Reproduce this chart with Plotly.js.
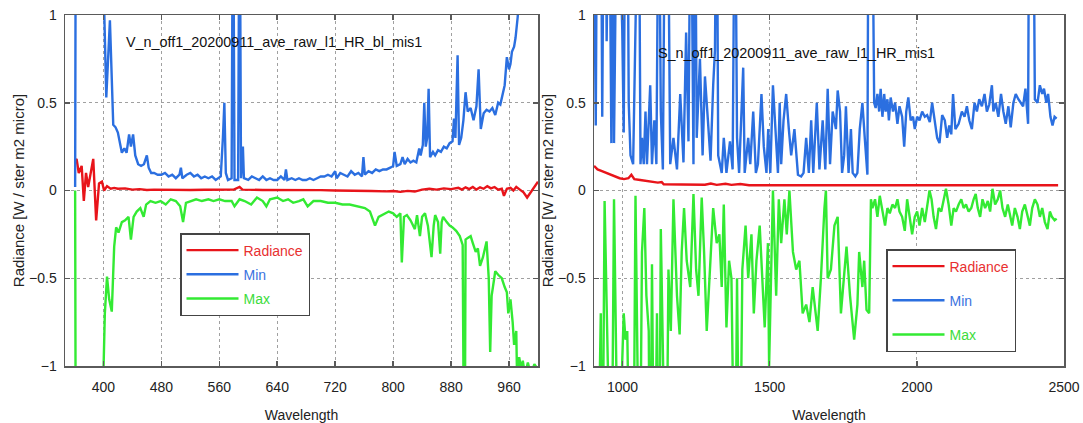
<!DOCTYPE html>
<html>
<head>
<meta charset="utf-8">
<script src="https://cdn.plot.ly/plotly-3.0.1.min.js"></script>
<style>html,body{margin:0;padding:0;background:#fff;}#chart{width:1083px;height:423px;}</style>
</head>
<body>
<div id="chart"></div>
<script>
// ---------- Left panel (VNIR) ----------
const titleV = 'V_n_off1_20200911_ave_raw_l1_HR_bl_mis1';
const wlV_rad = [361,363,366,370,373,376,379,382,386,390,394,398,401,405,410,415,420,430,440,450,460,470,480,500,520,540,560,580,588,592,620,650,680,700,720,750,770,790,800,810,820,830,840,850,860,870,880,890,895,900,905,910,915,920,925,930,935,940,945,950,953,957,962,966,970,975,980,985,990,995,1000];
const radV = [0.17,0.18,0.1,0.14,-0.06,0.1,0.02,0.08,0.18,-0.17,0.04,0.05,0.0,0.025,0.01,0.015,0.01,0.012,0.005,0.008,0.003,0.005,0.004,0.004,0.003,0.004,0.003,0.005,0.02,0.005,0.003,0.004,0.003,0.002,0.0,0.0,-0.003,-0.005,-0.003,-0.008,-0.002,-0.006,0.005,0.01,0.005,0.012,0.008,0.015,0.005,0.018,0.008,0.02,0.005,0.018,0.01,0.025,0.012,0.02,0.005,0.01,-0.03,0.01,0.015,0.0,0.02,0.005,-0.01,-0.04,-0.01,0.02,0.05];

const wlV_min = [361,362,399,401,404,409,413.6,416.8,420,423,425.5,429,432,435.5,438,441,444,448,452,456,460,462.5,466,470,475,480,485,490,495,500,505,507,509,515,520,525,530,535,540,545,550,555,558,562,565,567,569,572,577,579,581,586,588,590,592.6,594,600,605,610,615,620,625,630,635,640,645,650,652,654,660,665,670,675,680,685,690,695,700,705,710,715,720,722,727,732,737,742,747,752,757,759,761,766,771,776,781,786,791,796,800,802,805,810,813,816,820,824,828,832,836,838,841,843,845,847,849,851,855,858,862,866,870,874,878,882,884,886,889,891,894,897,900,903,907,911,915,918,921,925,929,933,937,941,945,948,951,954,957,960,962,964,967,969,972,975,980,1000];
const minV = [0.02,2,2,1.05,0.53,0.97,0.375,0.36,0.33,0.27,0.215,0.24,0.215,0.32,0.25,0.32,0.2,0.15,0.14,0.15,0.2,0.13,0.1,0.1,0.09,0.09,0.1,0.08,0.09,0.07,0.09,0.13,0.07,0.09,0.1,0.08,0.09,0.07,0.08,0.07,0.08,0.06,0.07,0.08,0.3,0.5,0.1,0.06,0.07,2,0.06,0.06,2,0.07,0.25,0.07,0.06,0.08,0.07,0.06,0.08,0.06,0.07,0.06,0.06,0.08,0.06,0.12,0.06,0.07,0.06,0.07,0.06,0.06,0.07,0.06,0.07,0.08,0.08,0.09,0.08,0.11,0.07,0.1,0.09,0.08,0.11,0.09,0.1,0.08,0.19,0.09,0.11,0.1,0.12,0.11,0.12,0.12,0.13,0.14,0.22,0.14,0.15,0.19,0.15,0.18,0.16,0.17,0.16,0.24,0.2,0.26,0.5,0.25,0.3,0.58,0.19,0.22,0.2,0.23,0.22,0.25,0.24,0.27,0.28,0.41,0.3,0.77,0.26,0.3,0.4,0.56,0.45,0.47,0.4,0.48,0.69,0.35,0.44,0.46,0.45,0.47,0.43,0.5,0.49,0.54,0.6,0.76,0.69,0.72,0.79,0.82,0.87,0.99,1.2,2,2];

const wlV_max = [361,362,399,400,402,405,408,411.6,414.9,417.6,420.9,425.5,430,434.7,438,441.7,446,451,455.6,459,465,472,479,486,493,500,506,510,514,520,528,536,545,552,560,568,577,581,588,595,604,612,620,625,630,640,648,655,662,670,676,682,690,700,710,720,730,740,750,761,768,775,780,785,794,800,805,810,812,815,819,824,830,833,837,840,844,848,853,856,858,862,865,867,869,874,878,882,887,892,896,898.5,900,903,907,910,914,917,920,924,929,932,934,936,941,945,950,954,957,959,962,965,967,970,971,974,977,979,982,986,990,995,1000];
const maxV = [0.0,-2,-2,-1.05,-0.7,-0.49,-0.62,-0.69,-0.32,-0.21,-0.24,-0.18,-0.17,-0.15,-0.28,-0.15,-0.12,-0.1,-0.15,-0.08,-0.06,-0.07,-0.06,-0.08,-0.05,-0.06,-0.09,-0.18,-0.07,-0.06,-0.05,-0.06,-0.05,-0.06,-0.05,-0.06,-0.06,-0.09,-0.05,-0.06,-0.08,-0.04,-0.06,-0.09,-0.05,-0.04,-0.06,-0.05,-0.07,-0.06,-0.05,-0.09,-0.06,-0.06,-0.07,-0.07,-0.08,-0.08,-0.09,-0.1,-0.12,-0.2,-0.15,-0.14,-0.12,-0.13,-0.15,-0.13,-0.41,-0.15,-0.14,-0.17,-0.22,-0.14,-0.26,-0.15,-0.13,-0.2,-0.38,-0.2,-0.14,-0.18,-0.36,-0.18,-0.15,-0.18,-0.2,-0.21,-0.23,-0.26,-0.31,-2,-0.28,-0.27,-0.26,-0.3,-0.35,-0.33,-0.43,-0.38,-0.29,-0.5,-0.92,-0.6,-0.46,-0.48,-0.5,-0.55,-0.58,-0.7,-0.62,-0.75,-0.88,-0.8,-1.05,-0.95,-1.02,-0.97,-1.05,-0.98,-1.05,-0.99,-1.02];

// ---------- Right panel (SWIR) ----------
const titleS = 'S_n_off1_20200911_ave_raw_l1_HR_mis1';
const wlS_rad = [903,915,930,945,960,975,990,1005,1020,1030,1040,1060,1080,1100,1120,1133,1140,1200,1280,1300,1320,1350,1370,1400,1430,1500,1700,2000,2300,2480];
const radS = [0.14,0.12,0.11,0.1,0.09,0.08,0.07,0.065,0.07,0.09,0.065,0.06,0.055,0.05,0.045,0.048,0.035,0.034,0.033,0.04,0.032,0.038,0.032,0.037,0.03,0.03,0.03,0.03,0.03,0.03];

const wlS_min = [903,909,914,926,931,937,942,946,954,962,967,971,976,982,999,1004,1010,1016,1021,1027,1036,1040,1055,1061,1066,1072,1078,1083,1094,1100,1108,1115,1123,1130,1137,1145,1153,1162,1173,1185,1196,1207,1216,1224,1232,1241,1246,1252,1263,1272,1280,1292,1299,1308,1314,1320,1325,1337,1344,1353,1365,1374,1382,1389,1396,1410,1415,1427,1434,1444,1453,1460,1472,1480,1489,1495,1502,1511,1520,1528,1534,1539,1547,1556,1565,1573,1584,1596,1607,1615,1624,1633,1641,1648,1660,1669,1680,1689,1697,1705,1714,1725,1731,1739,1746,1753,1759,1768,1776,1782,1791,1798,1806,1815,1823,1832,1836,1847,1855,1860,1866,1872,1877,1883,1889,1894,1900,1905,1911,1919,1926,1934,1941,1950,1957,1964,1971,1979,1987,1993,2001,2009,2018,2027,2035,2044,2052,2061,2069,2077,2086,2095,2103,2110,2117,2123,2131,2142,2153,2162,2170,2178,2187,2196,2204,2212,2221,2230,2238,2246,2255,2260,2268,2277,2286,2294,2302,2311,2319,2328,2336,2345,2352,2361,2369,2378,2382,2395,2401,2410,2418,2426,2432,2440,2446,2454,2461,2468,2475];
const minS = [1.5,0.37,2,2,0.42,2,2,0.85,2,0.27,2,0.27,2,2,0.92,0.33,2,2,0.5,0.2,0.15,2,2,0.15,0.3,0.15,0.45,0.15,0.6,0.15,0.4,0.15,2,0.45,0.12,2,2,0.15,0.3,0.12,0.55,0.16,0.9,0.28,2,0.15,2,0.3,0.75,0.2,0.65,0.35,0.17,0.6,0.8,2,0.2,0.1,0.3,0.1,0.28,0.12,2,0.3,0.1,0.7,0.1,0.3,0.15,0.45,0.1,0.15,0.55,0.25,0.1,0.35,0.1,0.6,0.3,0.1,0.5,0.15,0.4,0.55,0.35,0.2,0.35,0.09,0.08,0.1,0.3,0.1,0.4,0.1,0.5,0.12,0.4,0.12,0.58,0.15,0.45,0.35,0.57,0.45,0.1,0.2,0.48,0.1,0.35,0.1,0.08,0.1,0.35,0.5,0.3,0.09,2,2,0.5,0.47,0.55,0.45,0.58,0.42,0.55,0.45,0.52,0.4,0.53,0.45,0.5,0.38,0.48,0.42,0.25,0.45,0.53,0.4,0.42,0.35,0.42,0.4,0.45,0.42,0.43,0.39,0.5,0.38,0.3,0.27,0.43,0.4,0.3,0.37,0.32,0.55,0.35,0.38,0.45,0.42,0.48,0.4,0.35,0.5,0.45,0.52,0.48,0.55,0.45,0.49,0.6,0.45,0.5,0.42,0.55,0.45,0.38,0.48,0.36,0.5,0.55,0.52,0.5,0.48,0.58,0.38,2,2,0.52,0.5,0.6,0.55,0.58,0.5,0.55,0.42,0.37,0.42,0.41];

const wlS_max = [903,914,926,931,939,946,954,962,971,977,987,999,1004,1010,1016,1027,1036,1044,1052,1058,1066,1074,1081,1089,1094,1100,1108,1117,1124,1130,1140,1148,1156,1164,1173,1185,1194,1201,1209,1218,1230,1241,1250,1258,1269,1277,1286,1295,1308,1320,1329,1337,1344,1353,1362,1370,1382,1389,1398,1407,1418,1427,1438,1446,1455,1466,1475,1483,1494,1498,1511,1522,1531,1539,1550,1558,1567,1579,1590,1601,1612,1624,1635,1646,1663,1674,1686,1691,1697,1708,1720,1731,1742,1753,1761,1773,1787,1798,1804,1815,1821,1829,1838,1844,1849,1858,1866,1874,1883,1892,1900,1908,1917,1926,1934,1941,1950,1959,1967,1975,1984,1993,2001,2009,2018,2027,2035,2043,2050,2057,2065,2074,2083,2091,2099,2108,2117,2125,2133,2142,2151,2159,2167,2176,2185,2193,2200,2207,2215,2223,2232,2241,2249,2257,2266,2275,2283,2291,2300,2309,2316,2324,2333,2342,2350,2358,2367,2376,2384,2392,2401,2410,2418,2426,2435,2444,2452,2459,2468,2475];
const maxS = [-2,-2,-0.7,-2,-0.06,-0.6,-2,-2,-0.05,-2,-2,-0.97,-0.7,-0.85,-0.8,-2,-2,-0.03,-0.8,-2,-0.35,-0.1,-0.6,-0.8,-2,-0.42,-2,-0.7,-2,-0.22,-2,-2,-0.45,-0.8,-0.05,-0.6,-0.82,-0.35,-0.1,-0.4,-0.55,-0.02,-0.45,-0.6,-0.04,-0.35,-0.8,-0.5,-0.1,-0.3,-0.25,-0.55,-0.08,-0.78,-0.4,-0.5,-2,-0.5,-2,-0.45,-0.2,-0.5,-0.25,-0.7,-0.4,-0.2,-0.5,-0.78,-0.3,-1.0,0.0,-0.6,-0.05,-0.3,-0.05,-0.25,0.0,-0.35,-0.45,-0.4,-0.7,-0.65,-0.75,-0.55,-0.8,-0.5,-0.1,0.0,-0.5,-0.45,-0.2,-0.15,-0.7,-0.5,-0.32,-0.6,-0.85,-0.65,-0.35,-0.55,-0.4,-0.68,-0.7,-0.05,-0.1,-0.05,-0.15,-0.03,-0.12,-0.2,-0.1,-0.13,-0.08,-0.1,-0.05,-0.12,-0.15,-0.23,-0.05,-0.15,-0.25,-0.15,-0.12,-0.2,-0.1,-0.18,-0.08,0.0,-0.05,-0.15,-0.22,-0.1,-0.12,-0.05,0.01,-0.08,-0.2,-0.1,-0.12,-0.08,-0.05,-0.1,-0.08,-0.12,-0.1,-0.05,-0.02,-0.1,-0.15,-0.05,-0.1,-0.06,-0.12,0.01,-0.08,-0.05,0.0,-0.1,-0.15,-0.08,-0.14,-0.2,-0.1,-0.15,-0.22,-0.12,-0.08,-0.15,-0.2,-0.1,-0.05,-0.08,-0.15,-0.1,-0.18,-0.22,-0.12,-0.15,-0.17,-0.16];

const seriesNames = ['Radiance', 'Min', 'Max'];
const lineColors = ['#e8141a', '#2b6fe0', '#33ea33'];
const textColors = ['#e83030', '#3a72e0', '#3cdc3c'];
const yTitle = 'Radiance [W / ster m2 micro]';
const xTitle = 'Wavelength';

const FONT = 'Liberation Sans, Arial, sans-serif';

function mk(x, y, i, xa, ya, leg) {
  return {
    x: x, y: y, type: 'scatter', mode: 'lines',
    xaxis: xa, yaxis: ya, legend: leg, legendgroup: leg + i,
    name: '<span style="color:' + textColors[i] + '">' + seriesNames[i] + '</span>',
    line: {color: lineColors[i], width: 2.4}
  };
}

const traces = [
  mk(wlV_rad, radV, 0, 'x', 'y', 'legend'),
  mk(wlV_min, minV, 1, 'x', 'y', 'legend'),
  mk(wlV_max, maxV, 2, 'x', 'y', 'legend'),
  mk(wlS_rad, radS, 0, 'x2', 'y2', 'legend2'),
  mk(wlS_min, minS, 1, 'x2', 'y2', 'legend2'),
  mk(wlS_max, maxS, 2, 'x2', 'y2', 'legend2')
];

const axisCommon = {
  showgrid: true, gridcolor: '#a0a0a0', griddash: 'dot', gridwidth: 1,
  showline: true, mirror: 'ticks', linecolor: '#5a5a5a', linewidth: 1.5,
  ticks: 'inside', ticklen: 5, tickcolor: '#5a5a5a', tickwidth: 1.5,
  zeroline: false, tickfont: {family: FONT, size: 14, color: '#222'}
};

const W = 1083, H = 423;
const ml = 65, mr = 19, mt = 15, mb = 57;
const pw = W - ml - mr, ph = H - mt - mb;
function dx(a, b) { return [(a - ml) / pw, (b - ml) / pw]; }
function px(v) { return (v - ml) / pw; }
function py(v) { return (H - mb - v) / ph; }

const layout = {
  width: W, height: H,
  margin: {l: ml, r: mr, t: mt, b: mb},
  paper_bgcolor: '#fff', plot_bgcolor: '#fff',
  font: {family: FONT, size: 14, color: '#222'},
  showlegend: true,
  xaxis: Object.assign({}, axisCommon, {domain: dx(65, 538), range: [347, 1000], tick0: 400, dtick: 80, anchor: 'y',
    ticklabelstandoff: 8,
    title: {text: xTitle, font: {family: FONT, size: 14, color: '#222'}, standoff: 16}}),
  yaxis: Object.assign({}, axisCommon, {domain: [0, 1], range: [-1, 1], dtick: 0.5, anchor: 'x',
    ticklabelstandoff: 4,
    title: {text: yTitle, font: {family: FONT, size: 15, color: '#222'}, standoff: 1}}),
  xaxis2: Object.assign({}, axisCommon, {domain: dx(594, 1064), range: [903, 2500], tick0: 1000, dtick: 500, anchor: 'y2',
    ticklabelstandoff: 8,
    title: {text: xTitle, font: {family: FONT, size: 14, color: '#222'}, standoff: 16}}),
  yaxis2: Object.assign({}, axisCommon, {domain: [0, 1], range: [-1, 1], dtick: 0.5, anchor: 'x2',
    ticklabelstandoff: 4,
    title: {text: yTitle, font: {family: FONT, size: 15, color: '#222'}, standoff: 1}}),
  legend: {x: px(180), y: py(233), xanchor: 'left', yanchor: 'top',
    bgcolor: '#fff', bordercolor: '#444', borderwidth: 1.5, font: {family: FONT, size: 14},
    tracegroupgap: 3, itemwidth: 52, traceorder: 'grouped'},
  legend2: {x: px(886), y: py(249), xanchor: 'left', yanchor: 'top',
    bgcolor: '#fff', bordercolor: '#444', borderwidth: 1.5, font: {family: FONT, size: 14},
    tracegroupgap: 13, itemwidth: 52, traceorder: 'grouped'},
  annotations: [
    {text: titleV, xref: 'paper', yref: 'paper', x: px(124), y: py(42), xanchor: 'left', yanchor: 'middle',
      showarrow: false, font: {family: FONT, size: 14.4, color: '#111'}},
    {text: titleS, xref: 'paper', yref: 'paper', x: px(656), y: py(53), xanchor: 'left', yanchor: 'middle',
      showarrow: false, font: {family: FONT, size: 14.4, color: '#111'}}
  ]
};

Plotly.newPlot('chart', traces, layout, {displayModeBar: false, staticPlot: true});
</script>
</body>
</html>
